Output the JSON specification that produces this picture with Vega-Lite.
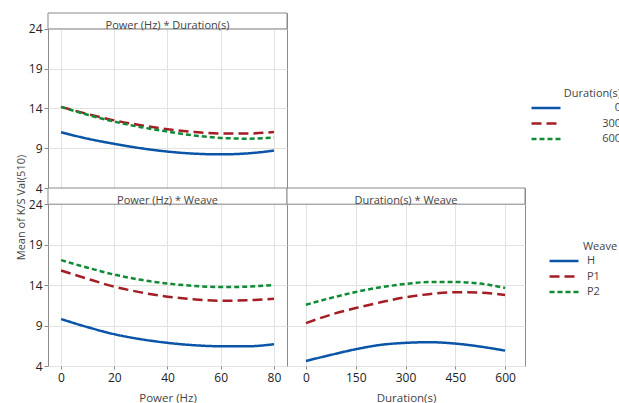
{
  "$schema": "https://vega.github.io/schema/vega-lite/v6.json",
  "padding": {"left": 14, "top": 12, "right": 0, "bottom": 0},
  "background": "white",
  "config": {
    "font": "Open Sans",
    "view": {"stroke": "#8a8a8a", "strokeWidth": 1},
    "axis": {"grid": true, "gridColor": "#e2e2e2", "gridWidth": 1, "domain": false, "tickColor": "#8a8a8a", "tickSize": 4, "labelFontSize": 12, "labelColor": "#222222", "titleFontSize": 11.5, "titleColor": "#444444", "titleFontWeight": "normal", "labelPadding": 2},
    "legend": {"symbolType": "stroke", "symbolSize": 841, "symbolStrokeWidth": 2.5, "clipHeight": 14, "rowPadding": 1.5, "titleFontSize": 11, "labelFontSize": 11, "titleColor": "#444444", "labelColor": "#444444", "titleFontWeight": "normal", "titlePadding": 2}
  },
  "datasets": {
    "pd": [
      {"Power": 0, "Duration": "0", "Mean": 11.0}, {"Power": 10, "Duration": "0", "Mean": 10.2}, {"Power": 20, "Duration": "0", "Mean": 9.55}, {"Power": 30, "Duration": "0", "Mean": 9.0}, {"Power": 40, "Duration": "0", "Mean": 8.58}, {"Power": 50, "Duration": "0", "Mean": 8.32}, {"Power": 60, "Duration": "0", "Mean": 8.23}, {"Power": 70, "Duration": "0", "Mean": 8.35}, {"Power": 80, "Duration": "0", "Mean": 8.7},
      {"Power": 0, "Duration": "300", "Mean": 14.2}, {"Power": 10, "Duration": "300", "Mean": 13.3}, {"Power": 20, "Duration": "300", "Mean": 12.5}, {"Power": 30, "Duration": "300", "Mean": 11.9}, {"Power": 40, "Duration": "300", "Mean": 11.4}, {"Power": 50, "Duration": "300", "Mean": 11.05}, {"Power": 60, "Duration": "300", "Mean": 10.85}, {"Power": 70, "Duration": "300", "Mean": 10.85}, {"Power": 80, "Duration": "300", "Mean": 11.05},
      {"Power": 0, "Duration": "600", "Mean": 14.2}, {"Power": 10, "Duration": "600", "Mean": 13.2}, {"Power": 20, "Duration": "600", "Mean": 12.35}, {"Power": 30, "Duration": "600", "Mean": 11.65}, {"Power": 40, "Duration": "600", "Mean": 11.1}, {"Power": 50, "Duration": "600", "Mean": 10.6}, {"Power": 60, "Duration": "600", "Mean": 10.3}, {"Power": 70, "Duration": "600", "Mean": 10.2}, {"Power": 80, "Duration": "600", "Mean": 10.35}
    ],
    "pw": [
      {"Power": 0, "Weave": "H", "Mean": 9.8}, {"Power": 10, "Weave": "H", "Mean": 8.8}, {"Power": 20, "Weave": "H", "Mean": 7.93}, {"Power": 30, "Weave": "H", "Mean": 7.31}, {"Power": 40, "Weave": "H", "Mean": 6.86}, {"Power": 50, "Weave": "H", "Mean": 6.57}, {"Power": 60, "Weave": "H", "Mean": 6.44}, {"Power": 70, "Weave": "H", "Mean": 6.44}, {"Power": 80, "Weave": "H", "Mean": 6.69},
      {"Power": 0, "Weave": "P1", "Mean": 15.8}, {"Power": 10, "Weave": "P1", "Mean": 14.77}, {"Power": 20, "Weave": "P1", "Mean": 13.81}, {"Power": 30, "Weave": "P1", "Mean": 13.1}, {"Power": 40, "Weave": "P1", "Mean": 12.57}, {"Power": 50, "Weave": "P1", "Mean": 12.24}, {"Power": 60, "Weave": "P1", "Mean": 12.07}, {"Power": 70, "Weave": "P1", "Mean": 12.12}, {"Power": 80, "Weave": "P1", "Mean": 12.32},
      {"Power": 0, "Weave": "P2", "Mean": 17.08}, {"Power": 10, "Weave": "P2", "Mean": 16.15}, {"Power": 20, "Weave": "P2", "Mean": 15.3}, {"Power": 30, "Weave": "P2", "Mean": 14.65}, {"Power": 40, "Weave": "P2", "Mean": 14.19}, {"Power": 50, "Weave": "P2", "Mean": 13.9}, {"Power": 60, "Weave": "P2", "Mean": 13.75}, {"Power": 70, "Weave": "P2", "Mean": 13.81}, {"Power": 80, "Weave": "P2", "Mean": 14.02}
    ],
    "dw": [
      {"Duration": 0, "Weave": "H", "Mean": 4.62}, {"Duration": 75, "Weave": "H", "Mean": 5.37}, {"Duration": 150, "Weave": "H", "Mean": 6.07}, {"Duration": 225, "Weave": "H", "Mean": 6.61}, {"Duration": 300, "Weave": "H", "Mean": 6.86}, {"Duration": 375, "Weave": "H", "Mean": 6.94}, {"Duration": 450, "Weave": "H", "Mean": 6.77}, {"Duration": 525, "Weave": "H", "Mean": 6.4}, {"Duration": 600, "Weave": "H", "Mean": 5.9},
      {"Duration": 0, "Weave": "P1", "Mean": 9.3}, {"Duration": 75, "Weave": "P1", "Mean": 10.34}, {"Duration": 150, "Weave": "P1", "Mean": 11.16}, {"Duration": 225, "Weave": "P1", "Mean": 11.87}, {"Duration": 300, "Weave": "P1", "Mean": 12.49}, {"Duration": 375, "Weave": "P1", "Mean": 12.9}, {"Duration": 450, "Weave": "P1", "Mean": 13.11}, {"Duration": 525, "Weave": "P1", "Mean": 13.07}, {"Duration": 600, "Weave": "P1", "Mean": 12.78},
      {"Duration": 0, "Weave": "P2", "Mean": 11.58}, {"Duration": 75, "Weave": "P2", "Mean": 12.41}, {"Duration": 150, "Weave": "P2", "Mean": 13.15}, {"Duration": 225, "Weave": "P2", "Mean": 13.73}, {"Duration": 300, "Weave": "P2", "Mean": 14.14}, {"Duration": 375, "Weave": "P2", "Mean": 14.39}, {"Duration": 450, "Weave": "P2", "Mean": 14.39}, {"Duration": 525, "Weave": "P2", "Mean": 14.19}, {"Duration": 600, "Weave": "P2", "Mean": 13.65}
    ]
  },
  "columns": 2,
  "spacing": 0,
  "bounds": "flush",
  "resolve": {
    "scale": {"x": "independent", "y": "independent", "color": "independent", "strokeDash": "independent"},
    "axis": {"x": "independent", "y": "independent"},
    "legend": {"color": "independent", "strokeDash": "independent"}
  },
  "concat": [
    {
      "width": 239,
      "height": 175,
      "layer": [
        {
          "data": {"name": "pd"},
          "mark": {"type": "line", "interpolate": "monotone", "strokeWidth": 2.5},
          "encoding": {
            "x": {"field": "Power", "type": "quantitative", "scale": {"domain": [-4.9, 84.9], "nice": false, "zero": false}, "axis": {"values": [0, 20, 40, 60, 80], "labels": false, "ticks": false, "title": null}},
            "y": {"field": "Mean", "type": "quantitative", "scale": {"domain": [4, 26], "nice": false, "zero": false}, "axis": {"values": [4, 9, 14, 19, 24], "title": null}},
            "color": {"field": "Duration", "type": "nominal", "scale": {"domain": ["0", "300", "600"], "range": ["#0a55a8", "#a51d24", "#118a36"]}, "legend": {"orient": "none", "legendX": 482, "legendY": 75, "title": "Duration(s)", "titleAnchor": "end", "titleAlign": "right", "labelAlign": "right", "labelOffset": 59}},
            "strokeDash": {"field": "Duration", "type": "nominal", "scale": {"domain": ["0", "300", "600"], "range": [[1, 0], [10, 5], [5, 3]]}, "legend": {"orient": "none", "legendX": 482, "legendY": 75, "title": "Duration(s)", "titleAnchor": "end", "titleAlign": "right", "labelAlign": "right", "labelOffset": 59}}
          }
        },
        {
          "data": {"values": [{"label": "Power (Hz) * Duration(s)"}]},
          "mark": {"type": "rect", "fill": "white", "stroke": "#8a8a8a", "strokeWidth": 1},
          "encoding": {"x": {"datum": -4.9}, "x2": {"datum": 84.9}, "y": {"datum": 24}, "y2": {"datum": 26}}
        },
        {
          "data": {"values": [{"label": "Power (Hz) * Duration(s)"}]},
          "mark": {"type": "text", "fontSize": 11, "color": "#444444", "baseline": "bottom", "dy": 2},
          "encoding": {"x": {"datum": 40}, "y": {"datum": 24}, "text": {"field": "label"}}
        }
      ]
    },
    {
      "width": 238,
      "height": 175,
      "view": {"stroke": null},
      "data": {"values": []},
      "mark": "point"
    },
    {
      "width": 239,
      "height": 178,
      "layer": [
        {
          "data": {"name": "pw"},
          "mark": {"type": "line", "interpolate": "monotone", "strokeWidth": 2.5},
          "encoding": {
            "x": {"field": "Power", "type": "quantitative", "scale": {"domain": [-4.9, 84.9], "nice": false, "zero": false}, "axis": {"values": [0, 20, 40, 60, 80], "title": "Power (Hz)", "tickSize": 3, "labelPadding": 3, "titlePadding": 9}},
            "y": {"field": "Mean", "type": "quantitative", "scale": {"domain": [4, 26], "nice": false, "zero": false}, "axis": {"values": [4, 9, 14, 19, 24], "title": "Mean of K/S Val(510)", "titleY": 19, "titleFontSize": 11, "titlePadding": 2}},
            "color": {"field": "Weave", "type": "nominal", "scale": {"domain": ["H", "P1", "P2"], "range": ["#0a55a8", "#a51d24", "#118a36"]}, "legend": null},
            "strokeDash": {"field": "Weave", "type": "nominal", "scale": {"domain": ["H", "P1", "P2"], "range": [[1, 0], [10, 5], [5, 3]]}, "legend": null}
          }
        },
        {
          "data": {"values": [{"label": "Power (Hz) * Weave"}]},
          "mark": {"type": "rect", "fill": "white", "stroke": "#8a8a8a", "strokeWidth": 1},
          "encoding": {"x": {"datum": -4.9}, "x2": {"datum": 84.9}, "y": {"datum": 24}, "y2": {"datum": 26}}
        },
        {
          "data": {"values": [{"label": "Power (Hz) * Weave"}]},
          "mark": {"type": "text", "fontSize": 11, "color": "#444444", "baseline": "bottom", "dy": 2},
          "encoding": {"x": {"datum": 40}, "y": {"datum": 24}, "text": {"field": "label"}}
        }
      ]
    },
    {
      "width": 238,
      "height": 178,
      "layer": [
        {
          "data": {"name": "dw"},
          "mark": {"type": "line", "interpolate": "monotone", "strokeWidth": 2.5},
          "encoding": {
            "x": {"field": "Duration", "type": "quantitative", "scale": {"domain": [-57, 660], "nice": false, "zero": false}, "axis": {"values": [0, 150, 300, 450, 600], "title": "Duration(s)", "tickSize": 3, "labelPadding": 3, "titlePadding": 9}},
            "y": {"field": "Mean", "type": "quantitative", "scale": {"domain": [4, 26], "nice": false, "zero": false}, "axis": {"values": [4, 9, 14, 19, 24], "labels": false, "ticks": false, "title": null}},
            "color": {"field": "Weave", "type": "nominal", "scale": {"domain": ["H", "P1", "P2"], "range": ["#0a55a8", "#a51d24", "#118a36"]}, "legend": {"orient": "none", "legendX": 261, "legendY": 53, "title": "Weave", "titleAnchor": "end", "titleAlign": "center", "labelOffset": 7}},
            "strokeDash": {"field": "Weave", "type": "nominal", "scale": {"domain": ["H", "P1", "P2"], "range": [[1, 0], [10, 5], [5, 3]]}, "legend": {"orient": "none", "legendX": 261, "legendY": 53, "title": "Weave", "titleAnchor": "end", "titleAlign": "center", "labelOffset": 7}}
          }
        },
        {
          "data": {"values": [{"label": "Duration(s) * Weave"}]},
          "mark": {"type": "rect", "fill": "white", "stroke": "#8a8a8a", "strokeWidth": 1},
          "encoding": {"x": {"datum": -57}, "x2": {"datum": 660}, "y": {"datum": 24}, "y2": {"datum": 26}}
        },
        {
          "data": {"values": [{"label": "Duration(s) * Weave"}]},
          "mark": {"type": "text", "fontSize": 11, "color": "#444444", "baseline": "bottom", "dy": 2},
          "encoding": {"x": {"datum": 301.5}, "y": {"datum": 24}, "text": {"field": "label"}}
        }
      ]
    }
  ]
}
